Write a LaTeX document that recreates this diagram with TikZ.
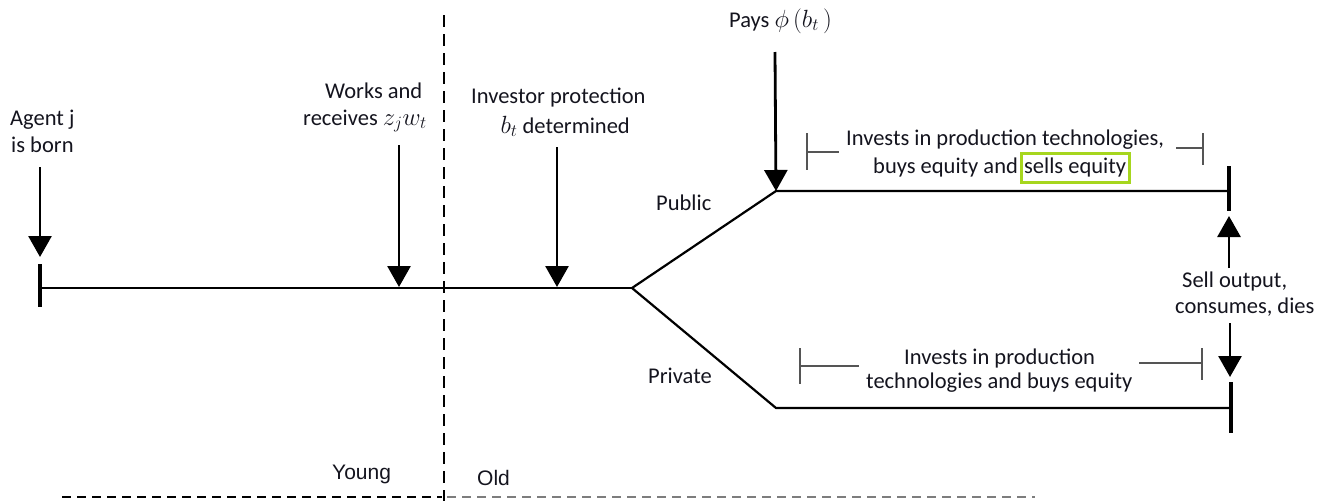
\documentclass[tikz,border=0pt]{standalone}
\usepackage{fontspec}
\setmainfont{Carlito}
\newfontfamily\arialf{Liberation Sans}
\usetikzlibrary{arrows.meta}
\definecolor{boxgreen}{RGB}{166,214,30}
\definecolor{brk}{RGB}{85,85,85}
\definecolor{dashgray}{RGB}{125,125,125}
\definecolor{ink}{RGB}{20,20,30}
\tikzset{
  lbl/.style={inner sep=0pt, font=\fontsize{22.5}{27}\selectfont, anchor=base west, text=ink},
  ybl/.style={inner sep=0pt, font=\arialf\fontsize{21}{24}\selectfont, anchor=base west, text=ink},
  evarrow/.style={line width=2.8pt, -{Triangle[width=23pt,length=21pt]}},
  tickbar/.style={line width=4pt},
  tl/.style={line width=2.2pt, line join=round},
  brkt/.style={draw=brk, line width=1.5pt},
  divider/.style={line width=2.2pt, dash pattern=on 12pt off 7pt},
  bottomdash/.style={line width=2pt, dash pattern=on 9pt off 6pt},
}
\newcommand{\mth}[1]{{\fontsize{25}{28}\selectfont$#1$}}
\begin{document}
\begin{tikzpicture}[x=1pt,y=-1pt]
\useasboundingbox (0,0) rectangle (1318,501);

% coordinates
\coordinate (bornTop) at (40,167);
\coordinate (bornTip) at (40,257);
\coordinate (tickLa) at (40,264);
\coordinate (tickLb) at (40,307);
\coordinate (start) at (40,288);
\coordinate (branch) at (632,288);
\coordinate (worksTop) at (399,145);
\coordinate (worksTip) at (399,287);
\coordinate (invTop) at (557,147);
\coordinate (invTip) at (557,287);
\coordinate (paysTop) at (775,52);
\coordinate (pub) at (776,191);
\coordinate (pubEnd) at (1229,191);
\coordinate (priv) at (776,408);
\coordinate (privEnd) at (1231,408);
\coordinate (tickUa) at (1229,166);
\coordinate (tickUb) at (1229,211);
\coordinate (tickDa) at (1231,382);
\coordinate (tickDb) at (1231,433);
\coordinate (upFrom) at (1229,268);
\coordinate (upTip) at (1229,216);
\coordinate (dnFrom) at (1230,323);
\coordinate (dnTip) at (1230,377);
\coordinate (divTop) at (444,15);
\coordinate (divBot) at (444,501);

% labels
\node[lbl] (agent1) at (10,125) {Agent j};
\node[lbl] (agent2) at (11,152) {is born};
\node[lbl] (works1) at (325,98) {Works and};
\node[lbl] (works2) at (303,125) {receives \mth{z_j w_t}};
\node[lbl] (inv1) at (471,103) {Investor protection};
\node[lbl, anchor=base east] (inv2) at (630,133) {\mth{b_t} determined};
\node[lbl] (pays) at (729,27) {Pays \mth{\phi\,(b_t\,)}};
\node[lbl] (public) at (656,210) {Public};
\node[lbl] (private) at (648,383) {Private};
\node[lbl] (up1) at (846,145) {Invests in production technologies,};
\node[lbl] (up2) at (873,173) {buys equity and};
\node[lbl, draw=boxgreen, line width=3pt, inner xsep=3pt, text height=19.5pt, text depth=9pt]
  (sells) at ([xshift=1.5pt]up2.base east) {sells equity};
\node[lbl] (lo1) at (904,364) {Invests in production};
\node[lbl] (lo2) at (866,388) {technologies and buys equity};
\node[lbl] (sell1) at (1182,287) {Sell output,};
\node[lbl] (sell2) at (1175,313) {consumes, dies};
\node[ybl] (young) at (332,479) {Young};
\node[ybl] (old) at (477,485) {Old};

% timeline
\draw[tl] (start) -- (branch);
\draw[tl] (branch) -- (pub) -- (pubEnd);
\draw[tl] (branch) -- (priv) -- (privEnd);
\draw[tickbar] (tickLa) -- (tickLb);
\draw[tickbar] (tickUa) -- (tickUb);
\draw[tickbar] (tickDa) -- (tickDb);

% event arrows
\draw[evarrow] (bornTop) -- (bornTip);
\draw[evarrow] (worksTop) -- (worksTip);
\draw[evarrow] (invTop) -- (invTip);
\draw[evarrow] (paysTop) -- (pub);
\draw[evarrow] (upFrom) -- (upTip);
\draw[evarrow] (dnFrom) -- (dnTip);

% brackets
\draw[brkt] (807,133) -- (807,170);
\draw[brkt] (807,152) -- (839,152);
\draw[brkt] (1176,148) -- (1203,148);
\draw[brkt] (1203,133) -- (1203,165);
\draw[brkt] (800,348) -- (800,384);
\draw[brkt] (800,366) -- (859,366);
\draw[brkt] (1139,363) -- (1202,363);
\draw[brkt] (1202,348) -- (1202,380);

% young / old divider
\draw[divider] (divTop) -- (divBot);
\draw[bottomdash] (62,497) -- (442,497);
\draw[bottomdash, draw=dashgray] (447,497) -- (1035,497);
\end{tikzpicture}
\end{document}
